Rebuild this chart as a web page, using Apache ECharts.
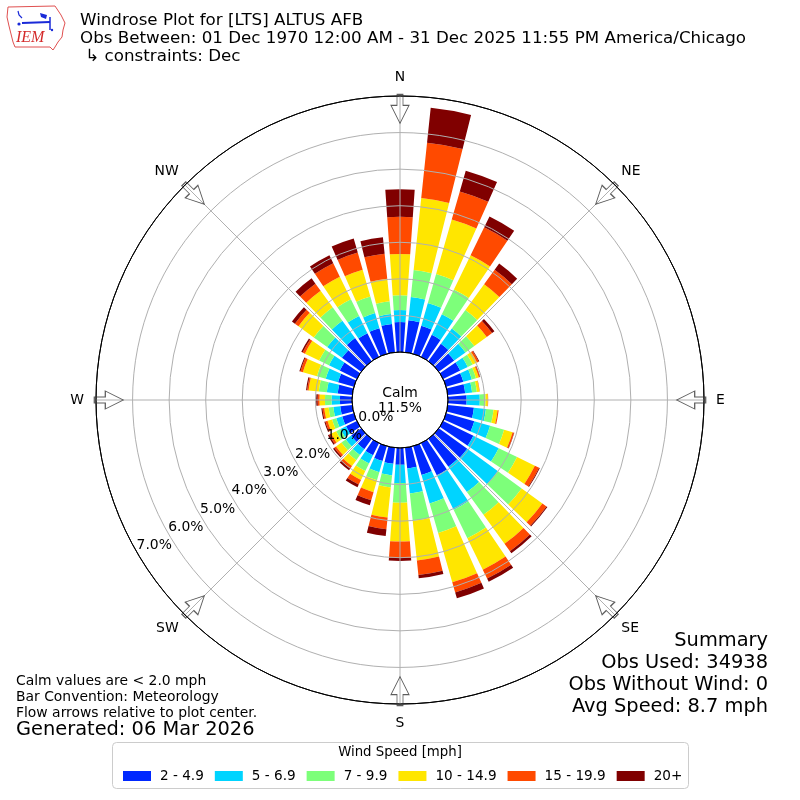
<!DOCTYPE html>
<html>
<head>
<meta charset="utf-8">
<script src="https://cdn.jsdelivr.net/npm/echarts@6/dist/echarts.min.js"></script>
<style>
html,body{margin:0;padding:0;background:#fff;}
#chart{width:800px;height:800px;}
</style>
</head>
<body>
<div id="chart"></div>
<script>
// ---- data ----
const directions = ['0','10','20','30','40','50','60','70','80','90','100','110','120','130','140','150','160','170',
                    '180','190','200','210','220','230','240','250','260','270','280','290','300','310','320','330','340','350'];
const speedBins = ['2 - 4.9', '5 - 6.9', '7 - 9.9', '10 - 14.9', '15 - 19.9', '20+'];
const binColors = ['#0028ff', '#00d4ff', '#7dff7a', '#ffe600', '#ff4a00', '#800000'];

const bin2to5   = [0.82,0.88,0.80,0.67,0.59,0.52,0.52,0.49,0.48,0.51,0.72,0.80,0.92,0.96,0.94,0.98,0.82,0.57,
                   0.46,0.44,0.42,0.37,0.35,0.34,0.33,0.33,0.33,0.33,0.40,0.45,0.52,0.65,0.78,0.72,0.73,0.78];
const bin5to7   = [0.33,0.64,0.65,0.63,0.51,0.38,0.23,0.24,0.19,0.36,0.33,0.45,0.77,1.04,0.86,1.05,0.81,0.69,
                   0.50,0.32,0.32,0.25,0.20,0.18,0.17,0.17,0.19,0.23,0.30,0.35,0.33,0.50,0.59,0.52,0.43,0.27];
const bin7to10  = [0.40,0.74,0.82,0.75,0.63,0.30,0.15,0.12,0.13,0.16,0.21,0.40,0.56,0.80,0.77,0.86,0.84,0.75,
                   0.54,0.33,0.23,0.23,0.17,0.15,0.13,0.12,0.13,0.18,0.22,0.25,0.30,0.45,0.45,0.51,0.47,0.35];
const bin10to15 = [1.13,1.98,1.55,1.04,0.87,0.42,0.13,0.08,0.07,0.06,0.11,0.24,0.54,0.70,0.98,0.96,1.40,1.09,
                   1.06,0.83,0.34,0.27,0.20,0.18,0.15,0.13,0.12,0.15,0.28,0.40,0.43,0.52,0.56,0.69,0.76,0.62];
const bin15to20 = [1.02,1.52,0.80,0.85,0.49,0.18,0.05,0.03,0.01,0.01,0.03,0.04,0.13,0.14,0.25,0.27,0.29,0.40,
                   0.45,0.32,0.23,0.14,0.08,0.06,0.06,0.06,0.05,0.05,0.04,0.07,0.07,0.12,0.24,0.41,0.49,0.69];
const bin20plus = [0.75,0.96,0.59,0.33,0.21,0.08,0.02,0.01,0.00,0.00,0.00,0.01,0.02,0.03,0.07,0.10,0.17,0.09,
                   0.08,0.19,0.14,0.08,0.06,0.04,0.04,0.03,0.03,0.04,0.03,0.03,0.04,0.10,0.18,0.24,0.40,0.45];
const binData = [bin2to5, bin5to7, bin7to10, bin10to15, bin15to20, bin20plus];

const compassNames  = ['N', 'NE', 'E', 'SE', 'S', 'SW', 'W', 'NW'];
const compassAngles = [0, 45, 90, 135, 180, 225, 270, 315];
const cardinalNames = ['N', 'E', 'S', 'W'];
const diagonalNames = ['NE', 'SE', 'SW', 'NW'];
const calmPct = '11.5%';
const radiusMax = 7;

const titleLines = [
  'Windrose Plot for [LTS] ALTUS AFB',
  'Obs Between: 01 Dec 1970 12:00 AM - 31 Dec 2025 11:55 PM America/Chicago',
  ' \u21b3 constraints: Dec'
];
const noteLines = ['Calm values are < 2.0 mph', 'Bar Convention: Meteorology', 'Flow arrows relative to plot center.'];
const generatedText = 'Generated: 06 Mar 2026';
const summaryLines = ['Summary', 'Obs Used: 34938', 'Obs Without Wind: 0', 'Avg Speed: 8.7 mph'];
const legendTitle = 'Wind Speed [mph]';

// ---- chart ----
const FONT = 'DejaVu Sans';
const chart = echarts.init(document.getElementById('chart'), null, {renderer: 'canvas'});
const arrowR = 6.65;
const ringColors = ['#000000'].concat(Array(radiusMax - 1).fill('#b0b0b0')).concat(['#000000']);

const graphics = [];
titleLines.forEach((t, i) => {
  graphics.push({type: 'text', z: 10, style: {text: t, x: 80, y: 21 + i * 18, fontSize: 16.7, fontFamily: FONT, fill: '#000', textAlign: 'left', textVerticalAlign: 'middle'}});
});
noteLines.forEach((t, i) => {
  graphics.push({type: 'text', z: 10, style: {text: t, x: 16, y: 681 + i * 16, fontSize: 13.9, fontFamily: FONT, fill: '#000', textAlign: 'left', textVerticalAlign: 'middle'}});
});
graphics.push({type: 'text', z: 10, style: {text: generatedText, x: 16, y: 730, fontSize: 19.4, fontFamily: FONT, fill: '#000', textAlign: 'left', textVerticalAlign: 'middle'}});
summaryLines.forEach((t, i) => {
  graphics.push({type: 'text', z: 10, style: {text: t, x: 768, y: 641 + i * 22, fontSize: 19.4, fontFamily: FONT, fill: '#000', textAlign: 'right', textVerticalAlign: 'middle'}});
});
graphics.push({type: 'text', z: 10, style: {text: 'Calm', x: 400, y: 393, fontSize: 13.9, fontFamily: FONT, fill: '#000', textAlign: 'center', textVerticalAlign: 'middle'}});
graphics.push({type: 'text', z: 10, style: {text: calmPct, x: 400, y: 408, fontSize: 13.9, fontFamily: FONT, fill: '#000', textAlign: 'center', textVerticalAlign: 'middle'}});
// legend frame + title
graphics.push({type: 'rect', z: 0, shape: {x: 112.5, y: 742.5, width: 576, height: 46, r: 4}, style: {fill: '#fff', stroke: '#cccccc', lineWidth: 1}});
graphics.push({type: 'text', z: 10, style: {text: legendTitle, x: 400, y: 753, fontSize: 13.3, fontFamily: FONT, fill: '#000', textAlign: 'center', textVerticalAlign: 'middle'}});
// IEM logo (approximation)
graphics.push({type: 'polyline', z: 10, shape: {points: [[8,7],[55,6],[57,9],[61,15],[65,23],[63,30],[62,37],[58,42],[55,47],[53,50],[50,47],[15,47],[13,42],[11,34],[9,26],[7,17],[8,7]]}, style: {stroke: '#e05050', lineWidth: 1, fill: null}});
graphics.push({type: 'polyline', z: 10, shape: {points: [[22,23],[50,22]]}, style: {stroke: '#1a2ad8', lineWidth: 2}});
graphics.push({type: 'polyline', z: 10, shape: {points: [[50,17],[50,30]]}, style: {stroke: '#1a2ad8', lineWidth: 1.5}});
graphics.push({type: 'polyline', z: 10, shape: {points: [[18,11],[19,15],[22,18]]}, style: {stroke: '#1a2ad8', lineWidth: 1.2, fill: null}});
graphics.push({type: 'polygon', z: 10, shape: {points: [[40,13],[47,15],[46,19],[41,17]]}, style: {fill: '#1a2ad8'}});
graphics.push({type: 'circle', z: 10, shape: {cx: 19, cy: 24, r: 1.6}, style: {fill: '#1a2ad8'}});
graphics.push({type: 'circle', z: 10, shape: {cx: 52, cy: 30, r: 1.2}, style: {fill: '#1a2ad8'}});
graphics.push({type: 'text', z: 10, style: {text: 'IEM', x: 16, y: 38, fontSize: 16, fontFamily: 'Liberation Serif', fontStyle: 'italic', fill: '#d42a2a', textAlign: 'left', textVerticalAlign: 'middle'}});

const series = speedBins.map((name, i) => ({
  type: 'bar',
  name: name,
  coordinateSystem: 'polar',
  polarIndex: 1,
  stack: 'wind',
  data: binData[i],
  barCategoryGap: '20%',
  itemStyle: {color: binColors[i]},
  z: 2,
  silent: true
}));
series.push({
  type: 'scatter',
  coordinateSystem: 'polar',
  polarIndex: 0,
  symbol: 'path://M-3,0 L3,0 L3,11 L9,11 L0,29 L-9,11 L-3,11 Z',
  symbolSize: [18, 29],
  data: compassAngles.map(a => ({value: [arrowR, a], symbolRotate: -a})),
  itemStyle: {color: 'rgba(255,255,255,0)', borderColor: '#333', borderWidth: 1},
  z: 6,
  silent: true
});

const hiddenAxis = {axisLine: {show: false}, axisTick: {show: false}, axisLabel: {show: false}, splitLine: {show: false}};

const option = {
  animation: false,
  backgroundColor: '#fff',
  textStyle: {fontFamily: FONT},
  polar: [
    {center: [400, 400], radius: [48, 304]},
    {center: [400, 400], radius: [48, 304]},
    {center: [401, 403], radius: [29, 285]},
    {center: [400, 400], radius: [48, 304]}
  ],
  angleAxis: [
    {polarIndex: 0, type: 'value', min: 0, max: 360, interval: 90, startAngle: 90, clockwise: true, z: 4,
     axisLine: {show: true, lineStyle: {color: '#000', width: 1}},
     axisTick: {show: false},
     axisLabel: {show: true, margin: 12, color: '#000', fontSize: 13.9, fontFamily: FONT,
                 formatter: v => cardinalNames[Math.round(v / 90) % 4]},
     splitLine: {show: true, lineStyle: {color: '#b0b0b0', width: 1}}},
    Object.assign({polarIndex: 1, type: 'category', data: directions, startAngle: 95, clockwise: true, boundaryGap: true}, hiddenAxis),
    {polarIndex: 2, type: 'value', min: 0, max: 360, startAngle: 210, show: false},
    {polarIndex: 3, type: 'value', min: 0, max: 360, interval: 90, startAngle: 45, clockwise: true, z: 4,
     axisLine: {show: false}, axisTick: {show: false},
     axisLabel: {show: true, margin: 9, color: '#000', fontSize: 13.9, fontFamily: FONT,
                 formatter: v => diagonalNames[Math.round(v / 90) % 4]},
     splitLine: {show: true, lineStyle: {color: '#b0b0b0', width: 1}}}
  ],
  radiusAxis: [
    {polarIndex: 0, type: 'value', min: 0, max: radiusMax, interval: 1, z: 4,
     axisLine: {show: false}, axisTick: {show: false}, axisLabel: {show: false},
     splitLine: {show: true, lineStyle: {color: ringColors, width: 1}}},
    {polarIndex: 1, type: 'value', min: 0, max: radiusMax, show: false},
    {polarIndex: 2, type: 'value', min: 0, max: radiusMax, interval: 1, z: 5,
     axisLine: {show: false}, axisTick: {show: false}, splitLine: {show: false},
     axisLabel: {show: true, margin: 0, align: 'center', verticalAlign: 'middle', rotate: 0,
                 color: '#000', fontSize: 13.9, fontFamily: FONT,
                 formatter: v => v.toFixed(1) + '%'}},
    {polarIndex: 3, type: 'value', min: 0, max: radiusMax, show: false}
  ],
  legend: {
    data: speedBins,
    left: 118, top: 764,
    orient: 'horizontal',
    icon: 'rect',
    itemWidth: 28, itemHeight: 10, itemGap: 11,
    selectedMode: false,
    z: 5,
    textStyle: {fontSize: 13.6, fontFamily: FONT, color: '#000', padding: [0, 0, 0, 4]}
  },
  graphic: graphics,
  series: series
};
chart.setOption(option);
</script>
</body>
</html>
